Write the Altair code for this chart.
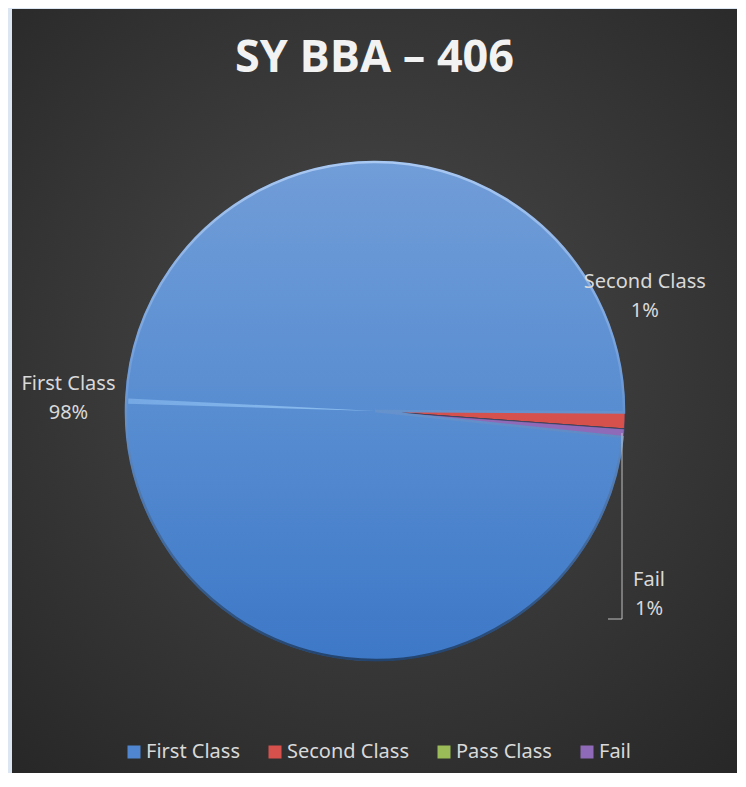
import math
import altair as alt
import pandas as pd

# ---- data ----
classes = ["First Class", "Second Class", "Pass Class", "Fail"]
counts = [187, 2, 0, 1]
colors = ["#4f86cf", "#d6504c", "#9bbb59", "#8e6ab8"]
chart_title = "SY BBA – 406"

df = pd.DataFrame({"Class": classes, "Count": counts, "Order": list(range(len(classes)))})
one = pd.DataFrame({"a": [0]})

# ---- layout ----
W, H = 725, 764
CX, CY, R = 363, 402, 250
start = math.radians(96.0)
LABEL_FONT = "Noto Sans"
LABEL_COLOR = "#d9d9d9"

theta_scale = alt.Scale(domain=[0, 1], nice=False, range=[start, start + 2 * math.pi])
theta = alt.Theta("Count:Q", stack="normalize", scale=theta_scale)
order = alt.Order("Order:Q")

base = alt.Chart(df).transform_joinaggregate(Total="sum(Count)").transform_calculate(
    Pct="round(datum.Count / datum.Total * 100) + '%'",
    Label="datum.Class + '\\n' + datum.Pct",
)

bg_grad = {
    "gradient": "radial",
    "x1": 0.5, "y1": 0.45, "r1": 0,
    "x2": 0.5, "y2": 0.45, "r2": 0.75,
    "stops": [{"offset": 0, "color": "#4a4a4a"}, {"offset": 1, "color": "#262626"}],
}
blue_grad = {
    "gradient": "linear",
    "x1": 0, "y1": 0, "x2": 0, "y2": 1,
    "stops": [
        {"offset": 0, "color": "#719dd8"},
        {"offset": 0.5, "color": "#588dd1"},
        {"offset": 1, "color": "#3d78c7"},
    ],
}
rim_grad = {
    "gradient": "linear",
    "x1": 0, "y1": 0, "x2": 0, "y2": 1,
    "stops": [
        {"offset": 0, "color": "#a9c8f2"},
        {"offset": 0.45, "color": "#6d9ad6"},
        {"offset": 1, "color": "#23446e"},
    ],
}
ridge_grad = {
    "gradient": "linear",
    "x1": 1, "y1": 0, "x2": 0, "y2": 0,
    "stops": [
        {"offset": 0, "color": "#9fd0fa"},
        {"offset": 1, "color": "#7fb2ea"},
    ],
}

bg = alt.Chart(one).mark_rect(fill=bg_grad).encode(
    x=alt.value(0), x2=alt.value("width"), y=alt.value(0), y2=alt.value("height")
)

pie = base.mark_arc(outerRadius=R, stroke="#2e3f57", strokeWidth=0.6).encode(
    theta=theta,
    order=order,
    color=alt.Color(
        "Class:N",
        scale=alt.Scale(domain=classes, range=colors),
        legend=alt.Legend(
            orient="none", legendX=112, legendY=733, direction="horizontal",
            title=None, labelFont=LABEL_FONT, labelFontSize=20, labelColor=LABEL_COLOR,
            symbolType="square", symbolSize=169, symbolStrokeWidth=0,
            labelOffset=2, columnPadding=25, padding=0, labelLimit=300,
        ),
    ),
    x=alt.value(CX), y=alt.value(CY),
)

overlay = base.mark_arc(outerRadius=R - 1, strokeWidth=2.5).encode(
    theta=theta,
    order=order,
    fill=alt.condition("datum.Class == 'First Class'", alt.value(blue_grad), alt.value("transparent")),
    stroke=alt.condition("datum.Class == 'First Class'", alt.value(rim_grad), alt.value("transparent")),
    x=alt.value(CX), y=alt.value(CY),
)

# bevel ridge of the big slice (light sliver along its middle)
ridge = alt.Chart(one).mark_arc(outerRadius=R - 3, opacity=0.75).encode(
    theta=alt.value(math.radians(271.7)), theta2=alt.value(math.radians(272.9)),
    fill=alt.value(ridge_grad),
    x=alt.value(CX), y=alt.value(CY),
)


def label_layer(name, radius, dx, dy):
    return base.transform_calculate(
        T=f"datum.Class == '{name}' ? datum.Label : ''"
    ).mark_text(
        radius=radius, dx=dx, dy=dy, font=LABEL_FONT, fontSize=20, color=LABEL_COLOR,
        lineBreak="\n", lineHeight=29, align="center", baseline="middle",
    ).encode(
        theta=theta, order=order, text="T:N", x=alt.value(CX), y=alt.value(CY)
    )


lab_first = label_layer("First Class", 307, 0, -10)
lab_second = label_layer("Second Class", 260, 10, -139)
lab_fail = label_layer("Fail", 260, 15, 146)

leader_v = alt.Chart(one).mark_rule(color="#bfbfbf", strokeWidth=1).encode(
    x=alt.value(610), y=alt.value(424), y2=alt.value(610)
)
leader_h = alt.Chart(one).mark_rule(color="#bfbfbf", strokeWidth=1).encode(
    x=alt.value(596), x2=alt.value(610), y=alt.value(610)
)

chart = alt.layer(
    bg, pie, overlay, ridge, lab_first, lab_second, lab_fail, leader_v, leader_h
).properties(
    width=W, height=H,
    title=alt.TitleParams(
        chart_title, font="Open Sans", fontSize=45, fontWeight="bold", color="#f2f2f2",
        anchor="middle", baseline="alphabetic", offset=-108,
    ),
    background="#dce6f2",
    padding={"left": 4, "top": 1, "right": 0, "bottom": 0},
    autosize=alt.AutoSizeParams(type="none"),
).configure_view(stroke=None)

chart.save("out.html", embed_options={"renderer": "svg", "actions": False})
